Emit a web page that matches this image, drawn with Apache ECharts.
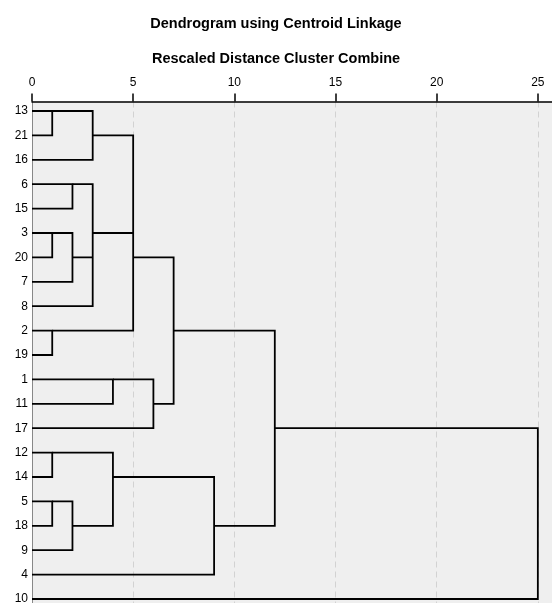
<!DOCTYPE html>
<html>
<head>
<meta charset="utf-8">
<script src="https://cdn.jsdelivr.net/npm/echarts@6/dist/echarts.min.js"></script>
<style>
html,body{margin:0;padding:0;background:#fff;overflow:hidden;}
#chart{width:552px;height:603px;}
</style>
</head>
<body>
<div id="chart"></div>
<script>
// Leaf labels in display order (top to bottom)
const leafLabels = ['13','21','16','6','15','3','20','7','8','2','19','1','11','17','12','14','5','18','9','4','10'];
// Merges: children node ids (leaves are 0..20, merge k is node 21+k)
const mergeChildren = [[0,1],[21,2],[3,4],[5,6],[24,7],[23,25,8],[9,10],[22,26,27],[11,12],[29,13],[28,30],[14,15],[16,17],[33,18],[32,34],[35,19],[31,36],[37,20]];
// Rescaled distance at which each merge happens
const mergeHeight = [1,3,2,1,2,3,1,5,4,6,7,1,1,2,4,9,12,25];
// Row from which the merged cluster continues
const mergeRow = [0,1,3,5,6,5,9,6,11,12,9,14,16,17,15,17,13,13];
// Axis tick labels
const xTicks = [0,5,10,15,20,25];

const nLeaf = leafLabels.length;
function nodeX(id){ return id < nLeaf ? 0 : mergeHeight[id - nLeaf]; }
function nodeY(id){ return id < nLeaf ? id : mergeRow[id - nLeaf]; }

const segs = [];
mergeChildren.forEach((ch, k) => {
  const h = mergeHeight[k];
  const sorted = ch.slice().sort((a,b)=>nodeY(a)-nodeY(b));
  const top = sorted[0], bot = sorted[sorted.length-1];
  segs.push({coords: [[nodeX(top), nodeY(top)], [h, nodeY(top)], [h, nodeY(bot)], [nodeX(bot), nodeY(bot)]]});
  for (let i = 1; i < sorted.length - 1; i++) {
    const c = sorted[i];
    segs.push({coords: [[nodeX(c), nodeY(c)], [h, nodeY(c)]]});
  }
});

const chart = echarts.init(document.getElementById('chart'));
const font = 'Liberation Sans, Arial, sans-serif';
chart.setOption({
  animation: false,
  title: [
    {text: 'Dendrogram using Centroid Linkage', left: 'center', top: 11,
     textStyle: {fontFamily: font, fontSize: 14.5, fontWeight: 'bold', color: '#000'}},
    {text: 'Rescaled Distance Cluster Combine', left: 'center', top: 46,
     textStyle: {fontFamily: font, fontSize: 14.5, fontWeight: 'bold', color: '#000'}}
  ],
  grid: {left: 32, top: 101.5, width: 520, height: 507.5, outerBoundsMode: 'none', containLabel: false,
         show: true, backgroundColor: '#efefef', borderWidth: 0},
  xAxis: {
    type: 'value', position: 'top', min: 0, max: 25.7, interval: 5,
    axisLine: {show: true, onZero: false, lineStyle: {color: '#000', width: 1.5}},
    axisTick: {show: true, length: 8, lineStyle: {color: '#000', width: 1.5}, customValues: xTicks},
    axisLabel: {fontFamily: font, fontSize: 12, color: '#000', margin: 13, customValues: xTicks},
    splitLine: {show: true, lineStyle: {color: '#d2d2d2', type: [6,4], width: 1}}
  },
  yAxis: {
    type: 'value', inverse: true, min: -0.39, max: 20.41,
    axisLine: {show: true, onZero: false, lineStyle: {color: '#888', width: 1}},
    axisTick: {show: false},
    splitLine: {show: false},
    axisLabel: {fontFamily: font, fontSize: 12, color: '#000', margin: 4,
      customValues: leafLabels.map((_, i) => i),
      formatter: v => leafLabels[Math.round(v)] || ''}
  },
  series: [{
    type: 'lines', coordinateSystem: 'cartesian2d', polyline: true,
    lineStyle: {color: '#000', width: 1.8, opacity: 1},
    data: segs, z: 5
  }]
});
</script>
</body>
</html>
